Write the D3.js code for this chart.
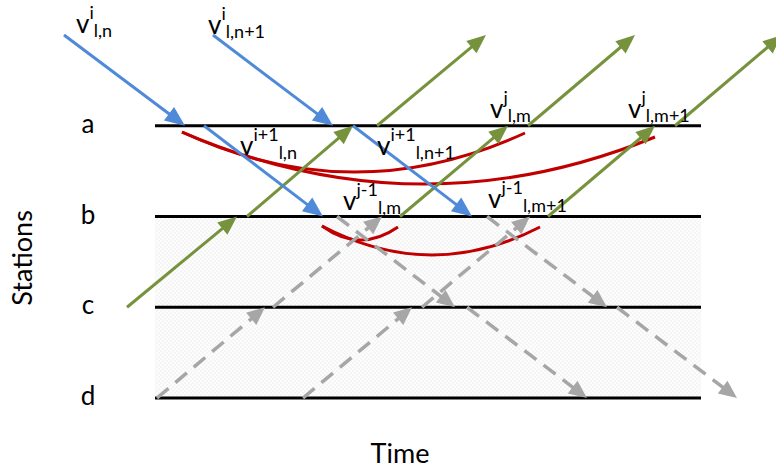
<!DOCTYPE html>
<html><head><meta charset="utf-8">
<script src="https://cdn.jsdelivr.net/npm/d3@7"></script>
<style>body{margin:0;background:#fff}svg{display:block}</style>
</head><body><svg id="c" width="776" height="470"></svg>
<script>
// ---- data (time units, station levels; level -1 = above station a) ----
const stations = ["a", "b", "c", "d"];
const stationLevels = [0, 1, 2, 3];
const lineSpan = [15.5, 70.1];            // time extent of station lines
const shadedLevels = [1, 3];              // shaded band between stations b and d
// arrows: [t0, level0, t1, level1]
const blueArrows = [[6.4,-1,18.5,0],[20.4,0,32.3,1],[21.3,-1,33.3,0],[35.3,0,47.2,1]];
const greenArrows = [[12.7,2,23.7,1],[24.7,1,35.3,0],[37.7,0,48.6,-1],[40.0,1,50.8,0],
                     [52.8,0,63.5,-1],[54.8,1,65.5,0],[67.5,0,78.2,-1]];
const grayArrows = [[33.7,1,45.5,2],[46.7,2,58.7,3],[48.7,1,60.7,2],[61.7,2,73.7,3],
                    [15.7,3,26.5,2],[27.3,2,38.2,1],[30.3,3,41.2,2],[42.2,2,53.0,1]];
// red arcs: [t0, level0, t1, level1, bottomLevel]
const redArcs = [[18.2,0.069,52.5,0.080,0.51],[18.2,0.069,65.5,0.124,0.642],
                 [32.2,1.105,39.8,1.116,1.259],[32.2,1.105,54.0,1.116,1.424]];
// labels: [superscript, subscript, t, level]
const labelSup = ["i","i","i+1","i+1","j","j","j-1","j-1"];
const labelSub = ["l,n","l,n+1","l,n","l,n+1","l,m","l,m+1","l,m","l,m+1"];
const labelT   = [7.6, 20.8, 24.0, 37.7, 49.0, 62.8, 34.3, 48.8];
const labelLvl = [-1.02,-1.01,0.322,0.322,-0.085,-0.085,0.928,0.906];
const axisTitles = {x: "Time", y: "Stations"};

// ---- scales ----
const x = d3.scaleLinear().domain([0, 77.6]).range([0, 776]);
const y = d3.scaleLinear().domain([-1, 3]).range([35, 398]);

const svg = d3.select("#c");
const defs = svg.append("defs");
const pat = defs.append("pattern").attr("id","chk").attr("width",4).attr("height",4)
  .attr("patternUnits","userSpaceOnUse");
pat.append("rect").attr("width",4).attr("height",4).attr("fill","#f5f5f5");
pat.append("rect").attr("width",2).attr("height",2).attr("fill","#fdfdfd");
pat.append("rect").attr("x",2).attr("y",2).attr("width",2).attr("height",2).attr("fill","#fdfdfd");

svg.append("rect")
  .attr("x", x(lineSpan[0])).attr("y", y(shadedLevels[0]))
  .attr("width", x(lineSpan[1]) - x(lineSpan[0]))
  .attr("height", y(shadedLevels[1]) - y(shadedLevels[0]))
  .attr("fill", "url(#chk)");

// station lines
svg.selectAll("line.st").data(stationLevels).join("line")
  .attr("x1", x(lineSpan[0])).attr("x2", x(lineSpan[1]))
  .attr("y1", d => y(d)).attr("y2", d => y(d))
  .attr("stroke", "#000").attr("stroke-width", 3);

// station labels
svg.selectAll("text.st").data(stations).join("text")
  .attr("x", 88).attr("y", (d,i) => y(stationLevels[i]) + 7)
  .attr("text-anchor","middle")
  .style("font-family","Lato, 'Open Sans', sans-serif").style("font-size","26px")
  .text(d => d);

// arrow drawing
function drawArrows(data, color, dash, headLen, headW, width) {
  const g = svg.append("g");
  data.forEach(a => {
    const x0 = x(a[0]), y0 = y(a[1]), x1 = x(a[2]), y1 = y(a[3]);
    const dx = x1 - x0, dy = y1 - y0, L = Math.hypot(dx, dy);
    const ux = dx / L, uy = dy / L;
    const bx = x1 - ux * headLen, by = y1 - uy * headLen;
    g.append("line").attr("x1", x0).attr("y1", y0).attr("x2", bx + ux*2).attr("y2", by + uy*2)
      .attr("stroke", color).attr("stroke-width", width)
      .attr("stroke-dasharray", dash || null);
    const px = -uy, py = ux;
    g.append("polygon")
      .attr("points", [[x1,y1],[bx+px*headW,by+py*headW],[bx-px*headW,by-py*headW]].map(p=>p.join(",")).join(" "))
      .attr("fill", color);
  });
}

// red arcs
const red = svg.append("g");
redArcs.forEach(r => {
  const x0 = x(r[0]), y0 = y(r[1]), x1 = x(r[2]), y1 = y(r[3]), yb = y(r[4]);
  const cx = (x0 + x1) / 2, cy = 2 * yb - (y0 + y1) / 2;
  red.append("path").attr("d", `M${x0},${y0} Q${cx},${cy} ${x1},${y1}`)
    .attr("fill","none").attr("stroke","#c00000").attr("stroke-width",3);
});

drawArrows(grayArrows, "#a6a6a6", "15,9", 18, 8, 3.5);
drawArrows(greenArrows, "#76923c", null, 19, 8, 3);
drawArrows(blueArrows, "#4f8ad9", null, 20, 8.5, 3);

// v labels
const lab = svg.append("g").style("font-family","Lato, 'Open Sans', sans-serif").attr("fill","#000");
labelSup.forEach((s, i) => {
  const t = lab.append("text").attr("x", x(labelT[i])).attr("y", y(labelLvl[i]));
  t.append("tspan").style("font-size","26px").text("v");
  t.append("tspan").style("font-size","18px").attr("dy",-14).text(s);
  t.append("tspan").style("font-size","18px").attr("dy",18).text(labelSub[i]);
});

// axis titles
svg.append("text").attr("x", 400).attr("y", 463).attr("text-anchor","middle")
  .style("font-family","Lato, 'Open Sans', sans-serif").style("font-size","27px").text(axisTitles.x);
svg.append("text").attr("transform","translate(32,258) rotate(-90)").attr("text-anchor","middle")
  .style("font-family","Lato, 'Open Sans', sans-serif").style("font-size","27px").text(axisTitles.y);
</script></body></html>
